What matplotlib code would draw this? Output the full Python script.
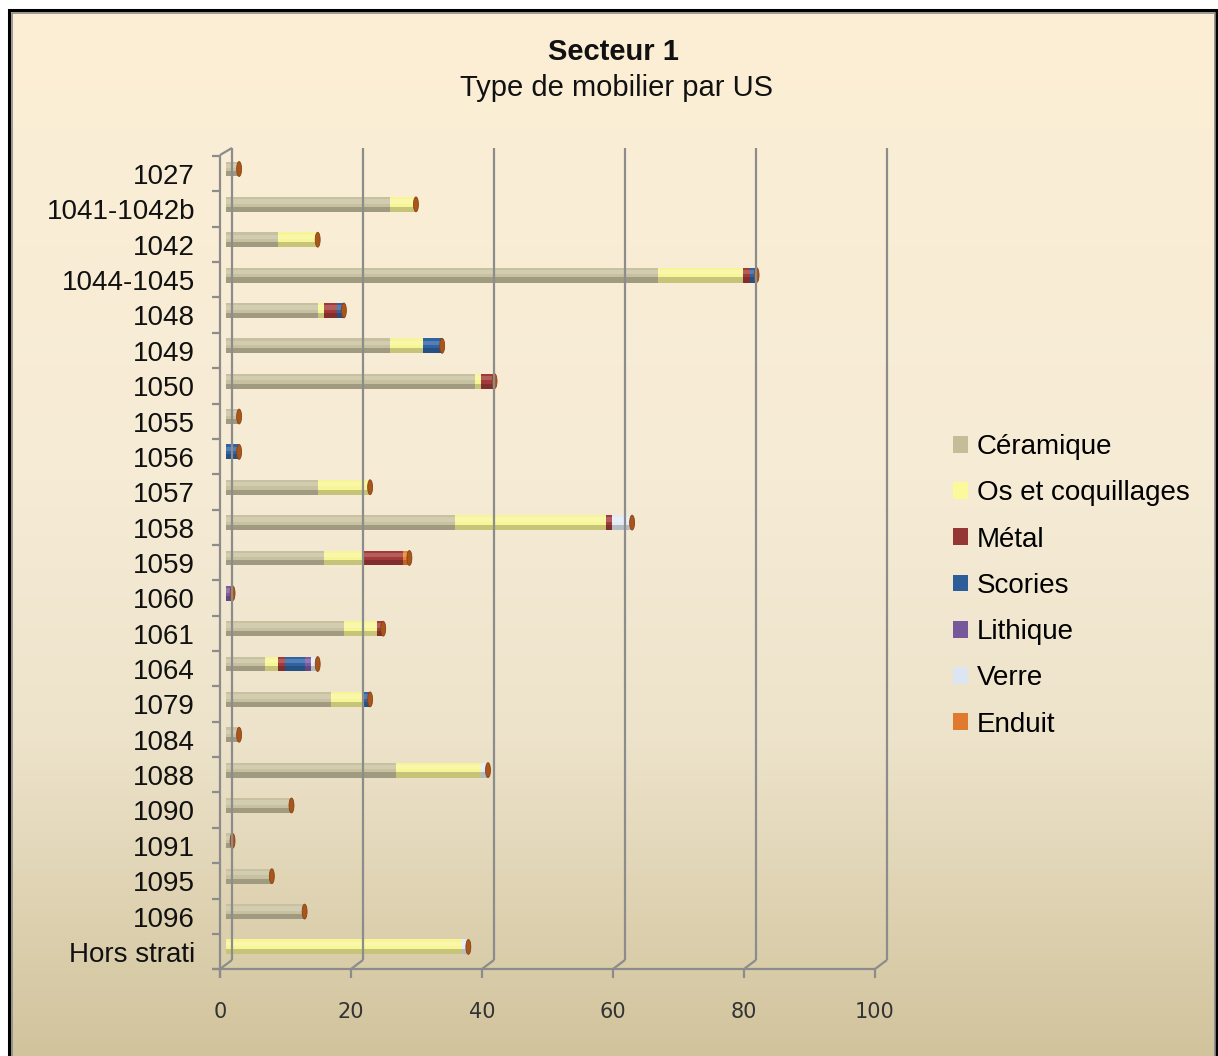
import numpy as np
import matplotlib
matplotlib.use('Agg')
import matplotlib.pyplot as plt
from matplotlib.patches import Ellipse, Rectangle
from matplotlib.lines import Line2D
import matplotlib.transforms as mtransforms
from matplotlib.colors import LinearSegmentedColormap, to_rgb

# ---------------- data ----------------
categories = ['1027', '1041-1042b', '1042', '1044-1045', '1048', '1049', '1050',
              '1055', '1056', '1057', '1058', '1059', '1060', '1061', '1064',
              '1079', '1084', '1088', '1090', '1091', '1095', '1096', 'Hors strati']
ceramique = [2, 25, 8, 66, 14, 25, 38, 2, 0, 14, 35, 15, 0, 18, 6, 16, 2, 26, 10, 1, 7, 12, 0]
os_coq    = [0, 4, 6, 13, 1, 5, 1, 0, 0, 8, 23, 6, 0, 5, 2, 5, 0, 13, 0, 0, 0, 0, 36]
metal     = [0, 0, 0, 1, 2, 0, 2, 0, 0, 0, 1, 6, 0, 1, 1, 0, 0, 0, 0, 0, 0, 0, 0]
scories   = [0, 0, 0, 1, 1, 3, 0, 0, 2, 0, 0, 0, 0, 0, 3, 1, 0, 0, 0, 0, 0, 0, 0]
lithique  = [0, 0, 0, 0, 0, 0, 0, 0, 0, 0, 0, 0, 1, 0, 1, 0, 0, 0, 0, 0, 0, 0, 0]
verre     = [0, 0, 0, 0, 0, 0, 0, 0, 0, 0, 3, 0, 0, 0, 1, 0, 0, 1, 0, 0, 0, 0, 1]
enduit    = [0, 0, 0, 0, 0, 0, 0, 0, 0, 0, 0, 1, 0, 0, 0, 0, 0, 0, 0, 0, 0, 0, 0]
series_names = ['Céramique', 'Os et coquillages', 'Métal', 'Scories', 'Lithique', 'Verre', 'Enduit']
x_ticks = [0, 20, 40, 60, 80, 100]

series = [ceramique, os_coq, metal, scories, lithique, verre, enduit]
colors = ['#C8C1A0', '#F8F596', '#A2393A', '#2F63A4', '#7B5AA0', '#E4EBF5', '#E8822C']
legend_colors = ['#C4BD97', '#FBF99A', '#953735', '#2C5D98', '#77599B', '#DCE6F2', '#E07A2E']

def mix(c, other, t):
    a = np.array(to_rgb(c)); b = np.array(to_rgb(other))
    return tuple(a * (1 - t) + b * t)

W, H = 1218, 1056
fig = plt.figure(figsize=(W / 100, H / 100), dpi=100)
fig.patch.set_facecolor('white')

# background gradient inside the frame
bg = fig.add_axes([9 / W, 0, 1209 / W, (H - 9) / H])
bg.set_axis_off()
cmap = LinearSegmentedColormap.from_list('bg', [(0, '#FCEFD5'), (0.45, '#F6EBD5'),
                                                 (0.7, '#EDE3CA'), (1.0, '#D1C39C')])
grad = np.linspace(0, 1, 256).reshape(-1, 1)
bg.imshow(grad, aspect='auto', cmap=cmap, extent=[0, 1, 0, 1], origin='upper')
bg.set_xlim(0, 1); bg.set_ylim(0, 1)
fig.add_artist(Rectangle((9, -6), 1207, H - 9 + 6 - 1, transform=mtransforms.IdentityTransform(),
                         fill=False, edgecolor='black', linewidth=2.2))
fig.add_artist(Rectangle((11.5, -6), 1203, H - 12 + 6 - 1, transform=mtransforms.IdentityTransform(),
                         fill=False, edgecolor='#8A8A8A', linewidth=1.2))

# main axes
ax = fig.add_axes([220 / W, 1 - 969 / H, (887 - 220) / W, (969 - 148) / H])
ax.patch.set_alpha(0)
ax.set_xlim(-6 / 6.55, (887 - 226) / 6.55)
ax.set_ylim((969 - 169) / 35.36, (148 - 169) / 35.36)
for s in ax.spines.values():
    s.set_visible(False)

n = len(categories)
y = np.arange(n)
h = 0.42
left = np.zeros(n)
for vals, c in zip(series, colors):
    vals = np.array(vals, dtype=float)
    ax.barh(y, vals, left=left, height=h, color=c, linewidth=0, zorder=3)
    ax.barh(y + h * 0.33, vals, left=left, height=h * 0.34, color=mix(c, 'black', 0.2),
            linewidth=0, zorder=4)
    ax.barh(y - h * 0.2, vals, left=left, height=h * 0.3, color=mix(c, 'white', 0.18),
            linewidth=0, zorder=4)
    left = left + vals

# end caps (top face of the last stacked cylinder)
for yi, tot in zip(y, left):
    ax.add_patch(Ellipse((tot, yi), width=0.75, height=h, facecolor='#A9561C',
                         edgecolor='#8A4212', linewidth=0.6, zorder=6))

# y tick labels
ax.set_yticks(y)
ax.set_yticklabels(categories, fontsize=20, family='Liberation Sans', color='#111111')
ax.tick_params(axis='y', length=0, pad=18)
off_down = mtransforms.ScaledTranslation(0, -5 / 100, fig.dpi_scale_trans)
for lab in ax.get_yticklabels():
    lab.set_transform(lab.get_transform() + off_down)

# x tick labels
ax.set_xticks(x_ticks)
ax.set_xticklabels([str(v) for v in x_ticks], fontsize=15, family='DejaVu Sans', color='#333333')
ax.tick_params(axis='x', length=0, pad=24)
off_left = mtransforms.ScaledTranslation(-6 / 100, 0, fig.dpi_scale_trans)
for lab in ax.get_xticklabels():
    lab.set_transform(lab.get_transform() + off_left)

# 3D-like walls, gridlines and axes (display coordinates)
idt = mtransforms.IdentityTransform()
gcol = '#8C8C8C'
lw = 1.6

def disp(xv, yv):
    return ax.transData.transform((xv, yv))

def line(xs, ys, **kw):
    fig.add_artist(Line2D(xs, ys, transform=idt, color=gcol, linewidth=lw,
                          solid_capstyle='butt', **kw))

Yf = H - 969      # front floor
Yb = H - 960      # back floor
Ytop = H - 148
for v in x_ticks:
    xv = disp(v, 0)[0]
    fx, bx = xv - 6, xv + 6
    line([bx, bx], [Yb, Ytop])
    line([fx, bx], [Yf, Yb])
    line([fx, fx], [Yf, Yf - 9])
fx0 = disp(0, 0)[0] - 6
fx100 = disp(100, 0)[0] - 6
line([fx0 - 8, fx100], [Yf, Yf])
line([fx0, fx0], [H - 155, Yf - 9])
line([fx0, fx0 + 12], [H - 155, Ytop])
for k in range(n + 1):
    yy = disp(0, k - 0.5)[1] - 4.7
    line([fx0 - 8, fx0], [yy, yy])

# legend
handles = [Rectangle((0, 0), 1, 1, facecolor=c, edgecolor='none') for c in legend_colors]
leg = fig.legend(handles, series_names, loc='upper left',
                 bbox_to_anchor=(953 / W, 1 - 434 / H), frameon=False,
                 prop={'family': 'Liberation Sans', 'size': 20},
                 handlelength=0.55, handleheight=0.55, handletextpad=0.3,
                 labelspacing=0.73, borderpad=0, borderaxespad=0)

# titles
fig.text(613 / W, 1 - 60 / H, 'Secteur 1', ha='center', va='baseline', fontsize=21,
         fontweight='bold', family='Liberation Sans', color='#111111')
fig.text(617 / W, 1 - 96 / H, 'Type de mobilier par US', ha='center', va='baseline',
         fontsize=21, family='Liberation Sans', color='#111111')

fig.savefig('out.png', dpi=100)
